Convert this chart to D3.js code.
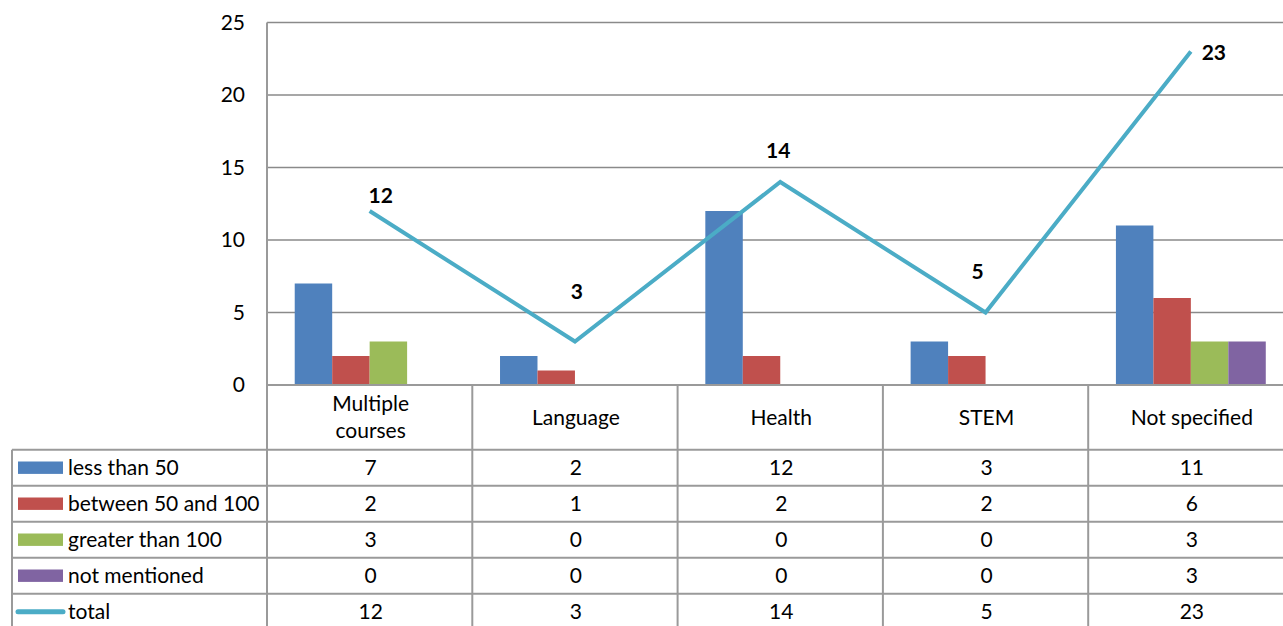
<!DOCTYPE html>
<html>
<head>
<meta charset="utf-8">
<script src="https://cdn.jsdelivr.net/npm/d3@7"></script>
<style>
  body { margin: 0; background: #fff; }
  svg { display: block; }
  text { font-family: Lato, "Open Sans", sans-serif; fill: #000; }
</style>
</head>
<body>
<svg id="chart" width="1283" height="626"></svg>
<script>
// data
var categories = ["Multiple courses", "Language", "Health", "STEM", "Not specified"];
var seriesNames = ["less than 50", "between 50 and 100", "greater than 100", "not mentioned"];
var lessThan50 = [7, 2, 12, 3, 11];
var between50and100 = [2, 1, 2, 2, 6];
var greaterThan100 = [3, 0, 0, 0, 3];
var notMentioned = [0, 0, 0, 0, 3];
var total = [12, 3, 14, 5, 23];
var yTicks = [0, 5, 10, 15, 20, 25];

var barSeries = [lessThan50, between50and100, greaterThan100, notMentioned];
var colors = ["#4F81BD", "#C0504D", "#9BBB59", "#8064A2"];
var lineColor = "#4BACC6";
// label nudges (px) relative to each point of the total line
var labelOffsets = [[11, -8], [2, -43], [-2, -24], [-8, -34], [23, 8]];

(function () {
    var svg = d3.select("#chart");
    var plotLeft = 267, plotRight = 1293.5, plotTop = 22.5, plotBottom = 385;
    var tableTop = 449.7, rowH = 36, tableLeft = 12;
    var gridColor = "#8a8a8a", tableColor = "#9a9a9a";
    var fontSize = 21;
    var lift = -1.5; // small nudge for vertically centred text

    var x = d3.scaleBand().domain(categories).range([plotLeft, plotRight]);
    var xSub = d3.scaleBand().domain(seriesNames).range([0, x.bandwidth()])
        .paddingInner(0).paddingOuter(0.74);
    var y = d3.scaleLinear().domain([0, 25]).range([plotBottom, plotTop]);

    // gridlines
    svg.append("g").selectAll("line").data(yTicks.filter(d => d > 0)).join("line")
        .attr("x1", plotLeft).attr("x2", 1283)
        .attr("y1", d => y(d)).attr("y2", d => y(d))
        .attr("stroke", gridColor).attr("stroke-width", 1.4);

    // y labels
    svg.append("g").selectAll("text").data(yTicks).join("text")
        .attr("x", 245).attr("y", d => y(d) + lift)
        .attr("text-anchor", "end").attr("dominant-baseline", "central")
        .style("font-size", fontSize + "px")
        .text(d => d);

    // bars
    var rows = [];
    barSeries.forEach((vals, si) => {
        vals.forEach((v, ci) => rows.push({s: seriesNames[si], si: si, c: categories[ci], v: v}));
    });
    svg.append("g").selectAll("rect").data(rows.filter(d => d.v > 0)).join("rect")
        .attr("x", d => x(d.c) + xSub(d.s))
        .attr("y", d => y(d.v))
        .attr("width", xSub.bandwidth())
        .attr("height", d => plotBottom - y(d.v))
        .attr("fill", d => colors[d.si]);

    // total line
    var pts = total.map((v, i) => [x(categories[i]) + x.bandwidth() / 2, y(v)]);
    svg.append("path")
        .attr("d", d3.line()(pts))
        .attr("fill", "none").attr("stroke", lineColor)
        .attr("stroke-width", 4).attr("stroke-linejoin", "miter");

    svg.append("g").selectAll("text").data(total).join("text")
        .attr("x", (d, i) => pts[i][0] + labelOffsets[i][0])
        .attr("y", (d, i) => pts[i][1] + labelOffsets[i][1])
        .attr("text-anchor", "middle")
        .style("font-size", fontSize + "px").style("font-weight", "bold")
        .text(d => d);

    // table lines
    var tg = svg.append("g").attr("stroke", tableColor).attr("stroke-width", 2);
    var tableBottom = tableTop + rowH * 5;
    tg.append("line").attr("x1", plotLeft).attr("x2", plotLeft)
        .attr("y1", plotTop).attr("y2", tableBottom);
    tg.append("line").attr("x1", plotLeft).attr("x2", 1283)
        .attr("y1", plotBottom).attr("y2", plotBottom);
    tg.selectAll(".v").data(categories.slice(1)).join("line")
        .attr("x1", d => x(d)).attr("x2", d => x(d))
        .attr("y1", plotBottom).attr("y2", tableBottom);
    tg.append("line").attr("x1", tableLeft).attr("x2", tableLeft)
        .attr("y1", tableTop).attr("y2", tableBottom);
    tg.selectAll(".h").data(d3.range(5)).join("line")
        .attr("x1", tableLeft).attr("x2", 1283)
        .attr("y1", d => tableTop + d * rowH).attr("y2", d => tableTop + d * rowH);

    // category labels
    var cat = svg.append("g").selectAll("text").data(categories).join("text")
        .attr("x", d => x(d) + x.bandwidth() / 2 + 1)
        .attr("y", (plotBottom + tableTop) / 2 + lift)
        .attr("text-anchor", "middle").attr("dominant-baseline", "central")
        .style("font-size", fontSize + "px");
    cat.each(function (d) {
        var words = d === "Multiple courses" ? ["Multiple", "courses"] : [d];
        var t = d3.select(this);
        words.forEach((w, i) => {
            t.append("tspan").attr("x", t.attr("x"))
                .attr("dy", i === 0 ? (-(words.length - 1) * 13.5) : 27)
                .text(w);
        });
    });

    // table rows
    var allRows = barSeries.concat([total]);
    var allNames = seriesNames.concat(["total"]);
    allRows.forEach((vals, ri) => {
        var cy = tableTop + ri * rowH + rowH / 2;
        if (ri < 4) {
            svg.append("rect").attr("x", 18).attr("y", cy - 6.2)
                .attr("width", 45).attr("height", 12.4).attr("fill", colors[ri]);
        } else {
            svg.append("line").attr("x1", 18).attr("x2", 63)
                .attr("y1", cy).attr("y2", cy)
                .attr("stroke", lineColor).attr("stroke-width", 5)
                .attr("stroke-linecap", "round");
        }
        svg.append("text").attr("x", 68).attr("y", cy + lift)
            .attr("dominant-baseline", "central")
            .style("font-size", fontSize + "px").text(allNames[ri]);
        svg.append("g").selectAll("text").data(vals).join("text")
            .attr("x", (d, i) => x(categories[i]) + x.bandwidth() / 2 + 1)
            .attr("y", cy + lift)
            .attr("text-anchor", "middle").attr("dominant-baseline", "central")
            .style("font-size", fontSize + "px")
            .text(d => d);
    });
})();
</script>
</body>
</html>
